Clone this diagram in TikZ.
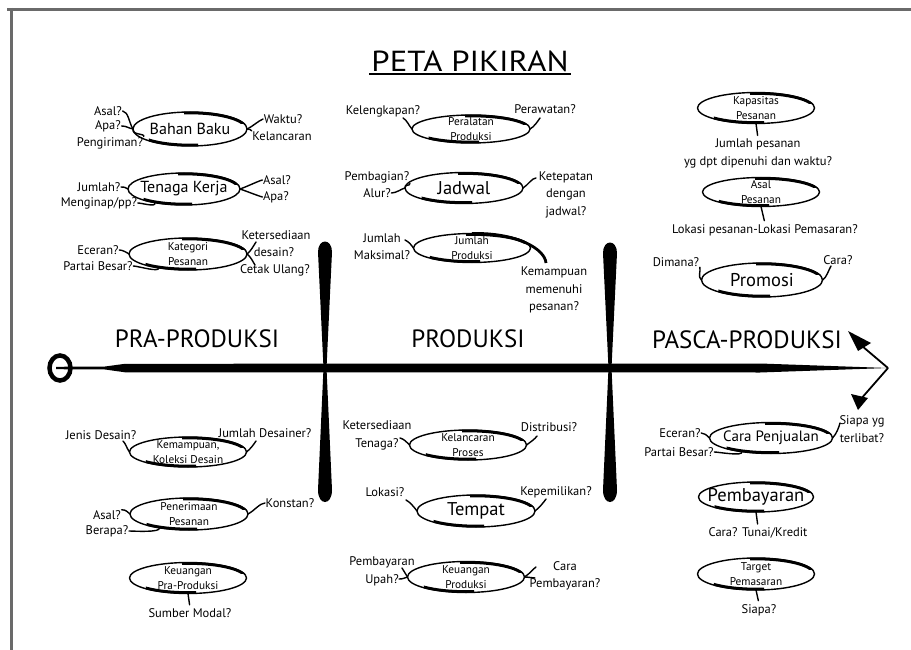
\documentclass[tikz,border=0pt]{standalone}
\usepackage{fontspec}
\usepackage{graphicx}
\setmainfont{PT Sans}
\usetikzlibrary{shapes.geometric,calc}
\definecolor{frm}{HTML}{6A6A6A}
\newcommand{\ellnode}[7]{%
  \node[ell, minimum width=#4, minimum height=#5, label={[#6]center:{#7}}] (#1) at (#2,#3) {};
  \begin{scope}
    \clip (#2-6,#3-#5/2-4) rectangle (#2+#4/2+4,#3-#5*0.15);
    \draw[thk] (#2,#3) ellipse[x radius=#4/2-0.9, y radius=#5/2-0.9];
  \end{scope}
  \begin{scope}
    \clip (#2-#4*0.36,#3+#5*0.15) rectangle (#2+8,#3+#5/2+4);
    \draw[thk] (#2,#3) ellipse[x radius=#4/2-0.9, y radius=#5/2-0.9];
  \end{scope}
}
\begin{document}
\begin{tikzpicture}[x=1pt, y=-1pt,
  ell/.style={ellipse, draw, line width=1.4pt, inner sep=0pt, outer sep=0pt},
  thk/.style={line width=2.8pt},
  wh/.style={line width=1.4pt, line cap=round},
  lb/.style={font=\fontsize{12.5}{17.5}\selectfont, inner sep=0.5pt, align=center},
  big/.style={font=\fontsize{16}{18}\selectfont, inner sep=0pt},
  huge/.style={font=\fontsize{18.5}{20}\selectfont, inner sep=0pt},
  mid/.style={font=\fontsize{15}{17}\selectfont, inner sep=0pt},
  sm/.style={font=\fontsize{11.3}{14.5}\selectfont, align=center, inner sep=0pt},
  ph/.style={font=\fontsize{25}{27}\selectfont, inner sep=0pt},
]
\fill[white] (0,0) rectangle (911,650);
\useasboundingbox (0,0) rectangle (911,650);
% frame
\draw[frm, line width=3pt] (7,9.5) -- (911,9.5);
\draw[frm, line width=3pt] (11,8) -- (11,650);
% title
\node[font=\fontsize{29}{31}\selectfont, inner sep=2pt] (ttl) at (470,61) {\scalebox{1.13}[1]{PETA PIKIRAN}};
\draw[line width=2pt] (ttl.south west) -- (ttl.south east);
% spine
\draw[line width=4.5pt] (60,368) ellipse[x radius=10.5, y radius=12.5];
\fill (56,366.8) -- (105,366.5) -- (125,363.8) -- (760,363.5) -- (888,368) -- (760,372.5) -- (125,372.3) -- (105,369.5) -- (56,369.2) -- cycle;
% arrow barbs
\draw[line width=1.8pt] (862,346) -- (888,368);
\fill (848,331) -- (871,343) -- (858,351) -- cycle;
\draw[line width=1.8pt] (888,368) -- (860,400);
\fill (851,394) -- (868,398) -- (858,410) -- cycle;
% bars
\fill (323.5,368) -- (318,252) .. controls (318,238) and (332,238) .. (332,252) -- (326.5,368) -- cycle;
\fill (323.5,368) -- (318,490) .. controls (318,506) and (332,506) .. (332,490) -- (326.5,368) -- cycle;
\fill (608.5,368) -- (603,253) .. controls (603,239) and (617,239) .. (617,253) -- (611.5,368) -- cycle;
\fill (608.5,368) -- (603,490) .. controls (603,506) and (617,506) .. (617,490) -- (611.5,368) -- cycle;
% phases
\node[ph] (pra) at (197,339) {PRA-PRODUKSI};
\node[ph] (prod) at (468,339) {PRODUKSI};
\node[ph] (pasca) at (747,340) {PASCA-PRODUKSI};

% ---- PRA upper
\ellnode{bb}{190}{129}{114}{34}{big}{Bahan Baku}
\node[lb] (bbA) at (108,111) {Asal?};
\node[lb] (bbB) at (108,126) {Apa?};
\node[lb] (bbC) at (110,143) {Pengiriman?};
\node[lb] (bbD) at (283,119) {Waktu?};
\node[lb] (bbE) at (282,136) {Kelancaran};
\draw[wh] (bbA.east) .. controls +(6,1) and +(-4,-6) .. (bb.west);
\draw[wh] (bbB.east) .. controls +(5,0) and +(-5,-1) .. (bb.west);
\draw[wh] (bbC.north east) .. controls +(2,-3) and +(-2,6) .. (bb.west);
\draw[wh] (bb.east) .. controls +(5,-2) and +(-5,2) .. (bbD.west);
\draw[wh] (bb.east) .. controls +(3,2) and +(-1,-3) .. (bbE.north west);

\ellnode{tk}{184}{189}{112}{32}{big}{Tenaga Kerja}
\node[lb] (tkA) at (99,187) {Jumlah?};
\node[lb] (tkB) at (99,203) {Menginap/pp?};
\node[lb] (tkC) at (277,180) {Asal?};
\node[lb] (tkD) at (276,197) {Apa?};
\draw[wh] (tkA.east) .. controls +(3,0) and +(-3,-2) .. (tk.west);
\draw[wh] (tkB.east) .. controls +(4,0) and +(2,5) .. (tk.205);
\draw[wh] (tk.east) .. controls +(6,-2) and +(-4,1) .. (tkC.west);
\draw[wh] (tk.east) .. controls +(6,2) and +(-4,-1) .. (tkD.west);

\ellnode{kp}{188}{254}{118}{32}{sm}{Kategori\\Pesanan}
\node[lb] (kpA) at (98,250) {Eceran?};
\node[lb] (kpB) at (98,266) {Partai Besar?};
\node[lb] (kpC) at (276,235) {Ketersediaan};
\node[lb] (kpD) at (274,252) {desain?};
\node[lb] (kpE) at (275,270) {Cetak Ulang?};
\coordinate (kpF) at (256,242);
\coordinate (kpG) at (255,265);
\draw[wh] (kpA.east) .. controls +(3,0) and +(-3,-2) .. (kp.west);
\draw[wh] (kpB.east) .. controls +(4,0) and +(2,5) .. (kp.205);
\draw[wh] (kp.east) .. controls +(4,-3) and +(-2,3) .. (kpF);
\draw[wh] (kp.east) .. controls +(4,3) and +(-2,-3) .. (kpG);

% ---- PRODUKSI upper
\ellnode{pp}{471}{129}{118}{28}{sm}{Peralatan\\Produksi}
\node[lb] (ppA) at (383,111) {Kelengkapan?};
\node[lb] (ppB) at (545,109) {Perawatan?};
\coordinate (ppC) at (403,118);
\coordinate (ppD) at (540,118);
\draw[wh] (ppC) .. controls +(4,2) and +(-3,-3) .. (pp.west);
\draw[wh] (pp.east) .. controls +(4,-2) and +(-2,3) .. (ppD);

\ellnode{jd}{464}{188}{118}{31}{huge}{Jadwal}
\node[lb] (jdA) at (377,177) {Pembagian?};
\node[lb] (jdB) at (377,193) {Alur?};
\node[lb] (jdC) at (566,194.5) {Ketepatan\\dengan\\jadwal?};
\coordinate (jdD) at (536,178);
\draw[wh] (jd.west) .. controls +(-1,-4) and +(0,3) .. (jdA.south east);
\draw[wh] (jdB.east) .. controls +(5,0) and +(-4,1) .. (jd.west);
\draw[wh] (jd.east) .. controls +(5,-3) and +(-4,0) .. (jdD);

\ellnode{jp}{472}{248}{117}{29}{sm}{Jumlah\\Produksi}
\node[lb] (jpA) at (382,246.5) {Jumlah\\Maksimal?};
\coordinate (jpB) at (405,240);
\draw[wh] (jpB) .. controls +(4,2) and +(-3,-4) .. (jp.west);
\coordinate (jpT) at (546,263);
\draw[thk] (jp.north) .. controls +(45,-1) and +(-1,-14) .. (jpT);
\node[lb] (jpC) at (554,290) {Kemampuan\\memenuhi\\pesanan?};

% ---- PASCA upper
\ellnode{kap}{756}{108}{117}{31}{sm}{Kapasitas\\Pesanan}
\node[lb] (kapA) at (758,153.5) {Jumlah pesanan\\yg dpt dipenuhi dan waktu?};
\draw[wh, shorten >=3pt] (kap.south) -- (kapA.north);

\ellnode{ap}{761}{192}{117}{29}{sm}{Asal\\Pesanan}
\node[lb] (apA) at (765,230) {Lokasi pesanan-Lokasi Pemasaran?};
\draw[wh, shorten >=3pt] (ap.south) -- (apA.north);

\ellnode{pr}{762}{280}{121}{34}{huge}{Promosi}
\node[lb] (prA) at (676,262) {Dimana?};
\node[lb] (prB) at (838,260) {Cara?};
\coordinate (prC) at (831,266);
\draw[wh] (prA.south east) .. controls +(1,4) and +(-4,-3) .. (pr.west);
\draw[wh] (pr.east) .. controls +(4,-2) and +(-2,3) .. (prC);

% ---- PRA lower
\ellnode{kk}{188}{452}{117}{30}{sm}{Kemampuan,\\Koleksi Desain}
\node[lb] (kkA) at (101,435) {Jenis Desain?};
\node[lb] (kkB) at (265,433) {Jumlah Desainer?};
\coordinate (kkC) at (123,441);
\coordinate (kkD) at (256,441);
\draw[wh] (kkC) .. controls +(3,3) and +(-3,-4) .. (kk.west);
\draw[wh] (kk.east) .. controls +(4,-3) and +(-2,3) .. (kkD);

\ellnode{pn}{189}{514}{118}{32}{sm}{Penerimaan\\Pesanan}
\node[lb] (pnA) at (107,515) {Asal?};
\node[lb] (pnB) at (107,531) {Berapa?};
\node[lb] (pnC) at (290,503) {Konstan?};
\draw[wh] (pnA.north east) .. controls +(5,0) and +(-3,-2) .. (pn.west);
\draw[wh] (pnB.east) .. controls +(4,0) and +(2,5) .. (pn.205);
\draw[wh] (pn.east) .. controls +(6,-3) and +(-5,0) .. (pnC.west);

\ellnode{kpp}{188}{578}{117}{31}{sm}{Keuangan\\Pra-Produksi}
\node[lb] (kppA) at (190,613) {Sumber Modal?};
\draw[wh, shorten >=3pt] (kpp.south) -- (kppA.north);

% ---- PRODUKSI lower
\ellnode{kl}{468}{445}{117}{30}{sm}{Kelancaran\\Proses}
\node[lb] (klA) at (377,435.5) {Ketersediaan\\Tenaga?};
\node[lb] (klC) at (549,427) {Distribusi?};
\coordinate (klB) at (400,438);
\coordinate (klD) at (537,436);
\draw[wh] (klB) .. controls +(4,1) and +(-3,-3) .. (kl.west);
\draw[wh] (kl.east) .. controls +(4,-3) and +(-2,3) .. (klD);

\ellnode{tp}{476}{511}{118}{32}{huge}{Tempat}
\node[lb] (tpA) at (385,492) {Lokasi?};
\node[lb] (tpB) at (556,492) {Kepemilikan?};
\coordinate (tpC) at (406,500);
\coordinate (tpD) at (546,499);
\draw[wh] (tpC) .. controls +(4,2) and +(-3,-4) .. (tp.west);
\draw[wh] (tp.east) .. controls +(4,-3) and +(-2,3) .. (tpD);

\ellnode{kpr}{466}{577}{117}{31}{sm}{Keuangan\\Produksi}
\node[lb] (kprA) at (382,571.5) {Pembayaran\\Upah?};
\node[lb] (kprB) at (565,576) {Cara\\Pembayaran?};
\coordinate (kprC) at (399,579);
\coordinate (kprD) at (402,568);
\coordinate (kprE) at (536,567);
\coordinate (kprF) at (535,578);
\draw[wh] (kprC) .. controls +(4,0) and +(-3,1) .. (kpr.west);
\draw[wh] (kprD) .. controls +(2,3) and +(-2,-3) .. (kpr.west);
\draw[wh] (kpr.east) .. controls +(5,-3) and +(-3,2) .. (kprE);
\draw[wh] (kpr.east) .. controls +(4,0) and +(-3,0) .. (kprF);

% ---- PASCA lower
\ellnode{cp}{771}{438}{123}{31}{mid}{Cara Penjualan}
\node[lb] (cpA) at (680,433) {Eceran?};
\node[lb] (cpB) at (679,452) {Partai Besar?};
\node[lb] (cpC) at (862,429) {Siapa yg\\terlibat?};
\coordinate (cpD) at (840,423);
\draw[wh] (cpA.east) .. controls +(3,0) and +(-3,-3) .. (cp.west);
\draw[wh] (cpB.east) .. controls +(4,0) and +(2,5) .. (cp.205);
\draw[wh] (cp.east) .. controls +(4,-4) and +(-1,4) .. (cpD);

\ellnode{pb}{756}{497}{115}{30}{huge}{Pembayaran}
\node[lb] (pbA) at (758,533) {Cara? Tunai/Kredit};
\draw[wh, shorten >=3pt] (pb.south) -- (pbA.north);

\ellnode{tpm}{756}{574}{117}{32}{sm}{Target\\Pemasaran}
\node[lb] (tpmA) at (759,610) {Siapa?};
\draw[wh, shorten >=3pt] (tpm.south) -- (tpmA.north);
\end{tikzpicture}
\end{document}
